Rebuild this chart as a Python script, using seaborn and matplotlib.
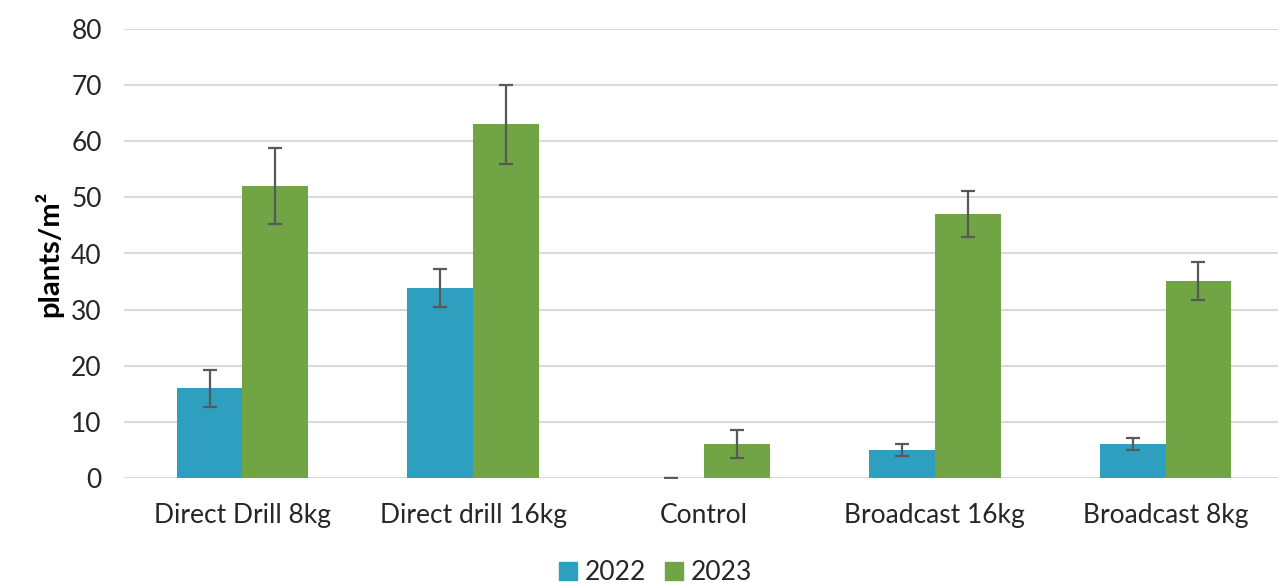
import pandas as pd
import seaborn as sns
import matplotlib.pyplot as plt
import numpy as np

# Data
treatments = ['Direct Drill 8kg', 'Direct drill 16kg', 'Control', 'Broadcast 16kg', 'Broadcast 8kg']
years = ['2022', '2023']
plants_2022 = [16.0, 33.9, 0.0, 5.0, 6.0]
plants_2023 = [52.0, 63.0, 6.1, 47.0, 35.1]
err_2022 = [3.3, 3.4, 0.0, 1.1, 1.1]
err_2023 = [6.8, 7.0, 2.5, 4.1, 3.4]

df = pd.DataFrame({
    'treatment': treatments * 2,
    'year': [years[0]] * 5 + [years[1]] * 5,
    'plants': plants_2022 + plants_2023,
})
errs = {'2022': err_2022, '2023': err_2023}
colors = ['#2E9FBF', '#70A445']

sns.set_style('white')
plt.rcParams['font.family'] = ['Lato', 'DejaVu Sans']

fig = plt.figure(figsize=(12.78, 5.83), dpi=100)
ax = fig.add_axes([124 / 1278, 105 / 583, 1160 / 1278, 449 / 583])

sns.barplot(data=df, x='treatment', y='plants', hue='year', order=treatments,
            hue_order=years, palette=colors, width=0.57, gap=0, linewidth=0,
            errorbar=None, saturation=1, ax=ax, zorder=2)

# error bars on top of each bar
for year, cont in zip(years, ax.containers):
    xs = [p.get_x() + p.get_width() / 2 for p in cont.patches]
    ys = [p.get_height() for p in cont.patches]
    ax.errorbar(xs, ys, yerr=errs[year], fmt='none', ecolor='#595959',
                elinewidth=1.6, capsize=4.7, capthick=1.6, zorder=3)

ax.set_ylim(0, 80)
ax.set_yticks(range(0, 81, 10))
ax.yaxis.grid(True, color='#d9d9d9', linewidth=1.5, zorder=0)
ax.set_axisbelow(True)
sns.despine(ax=ax, left=True, bottom=True, top=True, right=True)
ax.tick_params(axis='both', length=0, labelsize=19, colors='#262626')
ax.tick_params(axis='y', pad=16)
ax.tick_params(axis='x', pad=18)
ax.set_xlabel('')
ax.set_ylabel('plants/m²', fontsize=21, fontweight='bold', color='black', labelpad=6)

ax.legend_.remove()
handles = [plt.Rectangle((0, 0), 1, 1, color=c) for c in colors]
fig.legend(handles, years, loc='center', bbox_to_anchor=(0.513, 0.018), ncol=2,
           frameon=False, fontsize=19, handlelength=0.7, handleheight=0.7,
           handletextpad=0.3, columnspacing=0.7, labelcolor='#262626')

fig.savefig('out.png', dpi=100)
